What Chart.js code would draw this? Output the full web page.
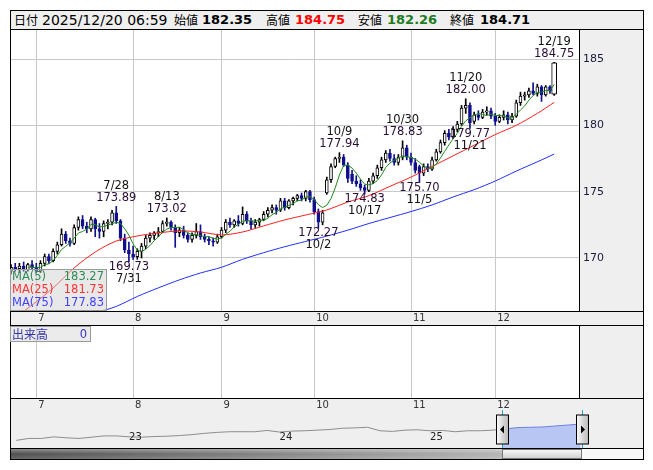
<!DOCTYPE html>
<html>
<head>
<meta charset="utf-8">
<script src="https://cdn.jsdelivr.net/npm/chart.js@4.4.1/dist/chart.umd.min.js"></script>
<style>
  body { margin: 0; width: 653px; height: 470px; position: relative; overflow: hidden; background: #fff; font-family: "DejaVu Sans", sans-serif; }
  canvas { position: absolute; }
  #hdr { position: absolute; left: 10px; top: 10px; width: 634px; height: 20px; box-sizing: border-box; border: 1px solid #000; background: #efefef; }
  #hdr span { position: absolute; top: 0; line-height: 18px; white-space: nowrap; color: #000; }
  .jl { font-family: "Noto Sans CJK JP", sans-serif; font-size: 12px; }
  .dt { font-size: 14px; }
  .bv { font-weight: bold; font-size: 13px; }
  #maBox { position: absolute; left: 10px; top: 269px; width: 97px; height: 42px; box-sizing: border-box; border: 1px solid #999; background: rgba(205,205,205,0.45); font-size: 11.5px; }
  #maBox div { position: absolute; left: 1px; right: 2px; height: 13px; line-height: 13px; }
  #maBox b { font-weight: normal; position: absolute; right: 0; }
  #volBox { position: absolute; left: 10px; top: 326px; width: 81px; height: 16px; box-sizing: border-box; border: 1px solid #999; background: rgba(215,215,215,0.5); color: #3333aa; line-height: 14px; }
  #scroll { position: absolute; left: 10px; top: 448px; width: 634px; height: 12px; box-sizing: border-box; border: 1px solid #000; background: #f8f8f8; }
  #scroll div { position: absolute; top: 0; height: 10px; }
</style>
</head>
<body>
<div id="hdr"></div>
<canvas id="main" width="634" height="297" style="left:10px;top:29px"></canvas>
<canvas id="vol" width="634" height="86" style="left:10px;top:325px"></canvas>
<canvas id="nav" width="634" height="39" style="left:10px;top:410px"></canvas>
<div id="maBox"></div>
<div id="volBox"><span class="jl" style="position:absolute;left:1px;color:#3333aa">出来高</span><span style="position:absolute;right:3px;font-size:11.5px;color:#3333cc">0</span></div>
<div id="scroll"><div id="scrDark"></div><div id="scrThumb"></div></div>
<script>
// EUR/JPY 日足 2025/6/23 - 2025/12/19 (index 0 = 6/23)
const opens = [169.0,169.3,169.2,169.4,169.1,169.5,169.3,169.0,169.6,170.1,169.8,170.5,171.0,171.8,171.3,171.1,172.3,172.9,172.4,172.2,
  172.9,172.2,172.0,172.6,172.7,173.4,172.8,171.5,170.6,170.3,170.1,170.5,170.9,171.5,171.7,171.9,172.0,172.6,172.7,172.3,
  171.9,172.1,171.7,171.4,171.7,172.0,171.6,171.4,171.3,171.2,171.6,172.1,172.7,172.5,172.8,172.6,173.3,172.8,172.5,172.7,
  172.9,173.3,173.6,173.8,173.6,174.3,173.8,174.3,174.5,174.7,174.5,175.0,174.4,173.5,172.7,174.9,175.9,176.9,177.5,177.6,
  177.0,176.3,175.8,175.6,175.3,175.1,175.8,176.2,176.8,177.4,177.9,177.5,177.2,177.6,178.3,177.6,177.2,176.9,176.4,176.9,
  176.7,177.4,178.0,178.7,179.4,179.1,179.7,180.1,181.3,181.5,180.3,180.8,180.6,181.0,181.1,180.7,180.3,180.6,180.8,180.4,
  180.7,181.7,182.2,182.3,182.6,182.4,182.9,182.3,182.9,182.35];
const highs = [169.5,169.6,169.6,169.7,169.6,169.8,169.6,169.8,170.3,170.3,170.7,171.2,172.2,172.0,171.5,172.5,173.1,173.2,172.7,173.1,
  173.0,172.6,172.8,172.9,173.6,173.89,172.9,171.8,171.2,170.9,170.7,171.1,171.7,171.9,172.0,172.3,172.8,173.02,172.8,172.5,
  172.3,172.4,171.9,171.9,172.6,172.5,171.8,171.6,171.5,171.8,172.3,172.9,173.0,172.9,173.2,173.85,173.5,173.0,172.9,173.0,
  173.5,173.8,174.0,174.0,174.5,174.5,174.4,174.6,174.8,174.9,175.1,175.1,174.6,173.7,173.6,176.1,177.1,177.6,177.94,177.8,
  177.2,176.6,176.2,175.9,175.5,176.0,176.4,177.0,177.6,178.1,178.2,177.8,177.8,178.83,178.5,177.9,177.5,177.0,177.1,177.1,
  177.6,178.2,178.9,179.6,179.7,179.9,180.3,181.5,182.00,181.7,181.0,181.1,181.2,181.4,181.3,180.9,180.8,181.1,181.0,180.9,
  181.9,182.5,182.5,182.8,183.2,183.1,183.0,183.0,183.0,184.75];
const lows = [168.8,169.0,168.9,169.0,169.0,169.2,168.9,168.9,169.4,169.6,169.7,170.3,170.9,171.1,170.9,171.0,172.1,172.2,171.9,172.0,
  171.6,171.5,171.6,172.2,172.5,172.6,171.3,170.4,169.73,169.9,169.9,170.0,170.7,171.2,171.4,171.6,171.9,172.4,172.1,170.8,
  171.6,171.5,171.2,171.2,171.5,171.4,171.2,171.0,170.9,171.1,171.5,171.9,172.3,172.3,172.4,172.5,172.6,172.2,172.3,172.4,
  172.8,173.1,173.4,173.3,173.5,173.6,173.7,174.0,174.3,174.3,174.3,174.2,173.3,172.27,172.5,174.8,175.7,176.8,177.2,176.9,
  175.7,175.6,175.4,175.1,174.83,175.0,175.6,176.0,176.6,177.2,177.3,177.0,177.0,177.4,177.4,177.0,176.4,175.70,176.2,176.5,
  176.6,177.3,177.9,178.5,178.9,179.0,179.5,180.0,180.9,179.77,180.1,180.4,180.5,180.8,180.5,180.0,180.2,180.4,180.1,180.2,
  180.6,181.5,181.9,182.1,182.3,182.2,181.8,182.2,182.4,182.26];
const closes = [169.3,169.2,169.4,169.1,169.5,169.3,169.0,169.6,170.1,169.8,170.5,171.0,171.8,171.3,171.1,172.3,172.9,172.4,172.2,172.9,
  172.2,172.0,172.6,172.7,173.4,172.8,171.5,170.6,170.3,170.1,170.5,170.9,171.5,171.7,171.9,172.0,172.6,172.7,172.3,171.9,
  172.1,171.7,171.4,171.7,172.0,171.6,171.4,171.3,171.2,171.6,172.1,172.7,172.5,172.8,172.6,173.3,172.8,172.5,172.7,172.9,
  173.3,173.6,173.8,173.6,174.3,173.8,174.3,174.5,174.7,174.5,175.0,174.4,173.5,172.7,173.4,175.9,176.9,177.5,177.6,177.0,
  176.0,175.8,175.6,175.3,175.1,175.8,176.2,176.8,177.4,177.9,177.5,177.2,177.6,178.3,177.6,177.2,176.6,176.4,176.9,176.7,
  177.4,178.0,178.7,179.4,179.1,179.7,180.1,181.3,181.5,180.2,180.8,180.6,181.0,181.1,180.7,180.3,180.6,180.8,180.4,180.7,
  181.7,182.2,182.3,182.6,182.4,182.9,182.3,182.9,182.6,184.71];

// 月初の足 (index) と目盛ラベル
const monthStart = [6, 29, 50, 72, 95, 115];
const monthLabels = ['7', '8', '9', '10', '11', '12'];
const yTicks = [170, 175, 180, 185];

// 移動平均 (チャートから読み取り)
const ma25Days = [0,5,10,15,20,25,30,35,40,45,50,55,60,65,70,75,80,85,90,95,100,105,110,115,120,125,129];
const ma25 = [165.3,166.45,167.74,169.25,170.45,171.28,171.66,171.89,172.04,171.96,171.74,171.96,172.42,172.87,173.24,173.62,174.22,174.7,175.4,176.1,176.9,177.7,178.5,179.3,180.0,180.9,181.73];
const ma75Days = [20,25,30,35,40,45,50,55,60,65,70,75,80,85,90,95,100,105,110,115,120,125,129];
const ma75 = [165.85,166.35,167.1,167.75,168.35,168.87,169.3,169.9,170.4,170.85,171.25,171.65,172.1,172.6,173.05,173.5,174.0,174.6,175.15,175.8,176.55,177.25,177.83];

// 高値・安値の注記
const annDays = [25, 28, 37, 73, 78, 84, 93, 97, 108, 109, 129];
const annDates = ['7/28', '7/31', '8/13', '10/2', '10/9', '10/17', '10/30', '11/5', '11/20', '11/21', '12/19'];
const annSide = ['h', 'l', 'h', 'l', 'h', 'l', 'h', 'l', 'h', 'l', 'h'];

// 凡例
const maNames = ['MA(5)', 'MA(25)', 'MA(75)'];
const maLast = ['183.27', '181.73', '177.83'];
const maColors = ['#1f8a1f', '#ff2020', '#2030ff'];
const maTextColors = ['#2e8b57', '#ff3333', '#4040ff'];

// ナビゲーター (月次, 2022/3 - 2025/12)
const navValues = [131,137,137,142,139,137,141,145,145,142,
  141,143,144,146,149,153,156,158,158,158,162,157,
  160,161,163,165,169,170,172,161,159,163,164,161,
  162,158,161,161,163,167,171,172,173,176,179,182];
const navYearStart = [10, 22, 34];
const navYearLabels = ['23', '24', '25'];
const navSel = [39.25, 45.61];

// header
const hdrItems = [
  ['日付', 'jl', 3, '#000'], ['2025/12/20 06:59', 'dt', 31, '#000'],
  ['始値', 'jl', 163, '#000'], ['182.35', 'bv', 191, '#000'],
  ['高値', 'jl', 255, '#000'], ['184.75', 'bv', 284, '#ff0000'],
  ['安値', 'jl', 347, '#000'], ['182.26', 'bv', 376, '#1e7a1e'],
  ['終値', 'jl', 439, '#000'], ['184.71', 'bv', 469, '#000']
];
const hdr = document.getElementById('hdr');
hdrItems.forEach(it => {
  const s = document.createElement('span');
  s.className = it[1];
  s.textContent = it[0];
  s.style.left = it[2] + 'px';
  s.style.color = it[3];
  hdr.appendChild(s);
});

const maBox = document.getElementById('maBox');
maNames.forEach((n, i) => {
  const d = document.createElement('div');
  d.style.top = (i * 13) + 'px';
  d.style.color = maTextColors[i];
  d.innerHTML = n + '<b>' + maLast[i] + '</b>';
  maBox.appendChild(d);
});

const ma5 = closes.map((c, i) => i < 4 ? null : closes.slice(i - 4, i + 1).reduce((a, b) => a + b, 0) / 5);
const up = closes.map((c, i) => c >= opens[i]);
const downColor = '#10108c';
const last = closes.length - 1;

const xMin = -0.24, xMax = 134.9;
const gridColor = '#c8c8c8';

function xAxis(h) {
  return {
    type: 'linear', min: xMin, max: xMax, offset: false,
    grid: { color: gridColor, drawTicks: false, offset: false },
    border: { display: false },
    ticks: {
      align: 'start', labelOffset: 2, padding: 1, color: '#333',
      font: { family: 'DejaVu Sans', size: 10 },
      callback: v => monthLabels[monthStart.indexOf(v)]
    },
    afterBuildTicks: s => { s.ticks = monthStart.map(v => ({ value: v })); },
    afterFit: s => { s.height = h; s.paddingLeft = 0; s.paddingRight = 0; }
  };
}

function panelFrame(chart) {
  const { ctx, chartArea: a, width: w, height: h } = chart;
  ctx.save();
  ctx.strokeStyle = '#000';
  ctx.lineWidth = 1;
  ctx.beginPath();
  ctx.moveTo(0.5, 0); ctx.lineTo(0.5, h);
  ctx.moveTo(w - 0.5, 0); ctx.lineTo(w - 0.5, h);
  ctx.moveTo(a.right + 0.5, 0); ctx.lineTo(a.right + 0.5, a.bottom);
  ctx.moveTo(0, a.bottom + 0.5); ctx.lineTo(w, a.bottom + 0.5);
  ctx.moveTo(0, h - 0.5); ctx.lineTo(w, h - 0.5);
  ctx.moveTo(0, 0.5); ctx.lineTo(w, 0.5);
  ctx.stroke();
  ctx.restore();
}

const panelBg = {
  id: 'panelBg',
  beforeDraw(chart) {
    const { ctx, chartArea: a } = chart;
    ctx.save();
    ctx.fillStyle = '#efefef';
    ctx.fillRect(0, 0, chart.width, chart.height);
    ctx.fillStyle = '#fff';
    ctx.fillRect(a.left, a.top, a.right - a.left, a.bottom - a.top);
    ctx.restore();
  },
  afterDraw(chart) { panelFrame(chart); }
};

// 高値・安値の注記
const annPlugin = {
  id: 'annot',
  afterDatasetsDraw(chart) {
    const { ctx, scales: { x, y } } = chart;
    ctx.save();
    ctx.font = '11.5px "DejaVu Sans"';
    ctx.textAlign = 'center';
    ctx.textBaseline = 'middle';
    annDays.forEach((d, i) => {
      const px = x.getPixelForValue(d);
      if (annSide[i] === 'h') {
        const py = y.getPixelForValue(highs[d]);
        ctx.fillStyle = '#111';
        ctx.fillText(annDates[i], px, py - 20.5);
        ctx.fillStyle = '#2a0e36';
        ctx.fillText(highs[d].toFixed(2), px, py - 8.5);
      } else {
        const py = y.getPixelForValue(lows[d]);
        ctx.fillStyle = '#2a0e36';
        ctx.fillText(lows[d].toFixed(2), px, py + 5.5);
        ctx.fillStyle = '#111';
        ctx.fillText(annDates[i], px, py + 17.5);
      }
    });
    ctx.restore();
  }
};

const common = {
  responsive: false, animation: false, devicePixelRatio: 1, events: [],
  plugins: { legend: { display: false }, tooltip: { enabled: false } }
};

new Chart(document.getElementById('main'), {
  type: 'bar',
  data: {
    datasets: [
      { type: 'line', data: ma5.map((v, i) => ({ x: i, y: v })), borderColor: maColors[0], borderWidth: 1, pointRadius: 0, spanGaps: false, order: 0 },
      { type: 'line', data: ma25Days.map((d, i) => ({ x: d, y: ma25[i] })), borderColor: maColors[1], borderWidth: 1, pointRadius: 0, tension: 0.3, order: 0 },
      { type: 'line', data: ma75Days.map((d, i) => ({ x: d, y: ma75[i] })), borderColor: maColors[2], borderWidth: 1, pointRadius: 0, tension: 0.3, order: 0 },
      {
        // 最新の足 (少し太く表示)
        type: 'bar', data: [{ x: last, y: [opens[last], closes[last]] }],
        backgroundColor: up[last] ? '#fff' : downColor,
        borderColor: up[last] ? '#000' : downColor,
        borderWidth: 1, borderSkipped: false, barThickness: 5, grouped: false, order: 0.5
      },
      {
        type: 'bar', data: opens.map((o, i) => ({ x: i, y: [o, closes[i]] })),
        backgroundColor: up.map(u => u ? '#fff' : downColor),
        borderColor: up.map(u => u ? '#000' : downColor),
        borderWidth: 1, borderSkipped: false, barThickness: 3, grouped: false, order: 1
      },
      {
        type: 'bar', data: lows.map((l, i) => ({ x: i, y: [l, highs[i]] })),
        backgroundColor: up.map(u => u ? '#000' : downColor),
        borderWidth: 0, barThickness: 1, grouped: false, order: 2
      }
    ]
  },
  options: {
    ...common,
    layout: { padding: { top: 1, left: 0, right: 0, bottom: 0 } },
    scales: {
      x: xAxis(15),
      y: {
        position: 'right', min: 166.005, max: 187.186,
        grid: { color: gridColor, drawTicks: false },
        border: { display: false },
        ticks: { padding: 4, color: '#1a1a3a', font: { family: 'DejaVu Sans', size: 11 } },
        afterBuildTicks: s => { s.ticks = yTicks.map(v => ({ value: v })); },
        afterFit: s => { s.width = 65; s.paddingTop = 0; s.paddingBottom = 0; }
      }
    }
  },
  plugins: [panelBg, annPlugin]
});

// 出来高 (FX のためデータなし)
new Chart(document.getElementById('vol'), {
  type: 'bar',
  data: { datasets: [] },
  options: {
    ...common,
    layout: { padding: { top: 1, left: 0, right: 0, bottom: 0 } },
    scales: {
      x: xAxis(13),
      y: {
        position: 'right', min: 0, max: 1,
        grid: { display: false }, border: { display: false },
        ticks: { display: false },
        afterFit: s => { s.width = 65; s.paddingTop = 0; s.paddingBottom = 0; }
      }
    }
  },
  plugins: [panelBg]
});

// ナビゲーター
const selFill = '#b8c6f4', selLine = '#6f7fe0';
function selGradient(chart, c0, c1) {
  const a = chart.chartArea;
  if (!a) return c1;
  const x = chart.scales.x;
  const f = Math.min(1, Math.max(0, (x.getPixelForValue(navSel[0]) - a.left) / (a.right - a.left)));
  const g = chart.ctx.createLinearGradient(a.left, 0, a.right, 0);
  g.addColorStop(0, c0); g.addColorStop(f, c0);
  g.addColorStop(f, c1); g.addColorStop(1, c1);
  return g;
}

const navDeco = {
  id: 'navDeco',
  beforeDraw(chart) {
    const { ctx } = chart;
    ctx.save();
    ctx.fillStyle = '#efefef';
    ctx.fillRect(0, 0, chart.width, chart.height);
    ctx.restore();
  },
  afterDraw(chart) {
    const { ctx, scales: { x }, width: w, height: h } = chart;
    ctx.save();
    ctx.font = '10px "DejaVu Sans"';
    ctx.fillStyle = '#222';
    ctx.textAlign = 'center';
    ctx.textBaseline = 'middle';
    navYearStart.forEach((m, i) => ctx.fillText(navYearLabels[i], x.getPixelForValue(m), 27));
    navSel.forEach((m, i) => {
      const px = Math.round(x.getPixelForValue(m)) + 0.5;
      ctx.strokeStyle = '#2aa0d8';
      ctx.beginPath(); ctx.moveTo(px, 0); ctx.lineTo(px, h); ctx.stroke();
      const g = ctx.createLinearGradient(px - 6, 0, px + 6, 0);
      g.addColorStop(0, '#fbfbfb'); g.addColorStop(1, '#b8b8b8');
      ctx.fillStyle = g;
      ctx.fillRect(px - 6, 5, 12, 29);
      ctx.strokeStyle = '#000';
      ctx.strokeRect(px - 6, 5, 12, 29);
      ctx.fillStyle = '#000';
      ctx.beginPath();
      if (i === 0) { ctx.moveTo(px + 1.5, 15.5); ctx.lineTo(px + 1.5, 23.5); ctx.lineTo(px - 2.5, 19.5); }
      else { ctx.moveTo(px - 1.5, 15.5); ctx.lineTo(px - 1.5, 23.5); ctx.lineTo(px + 2.5, 19.5); }
      ctx.closePath(); ctx.fill();
    });
    ctx.strokeStyle = '#000';
    ctx.beginPath();
    ctx.moveTo(0.5, 0); ctx.lineTo(0.5, h);
    ctx.moveTo(w - 0.5, 0); ctx.lineTo(w - 0.5, h);
    ctx.stroke();
    ctx.restore();
  }
};

const navChart = new Chart(document.getElementById('nav'), {
  type: 'line',
  data: {
    datasets: [{
      data: navValues.map((v, i) => ({ x: i + 0.5, y: v })),
      borderWidth: 1, pointRadius: 0, fill: 'start',
      borderColor: c => selGradient(c.chart, '#8c8c8c', selLine),
      backgroundColor: c => selGradient(c.chart, 'rgba(0,0,0,0)', selFill)
    }]
  },
  options: {
    ...common,
    layout: { padding: { top: 0, left: 0, right: 62, bottom: 0 } },
    scales: {
      x: { type: 'linear', display: false, min: 0, max: navSel[1] },
      y: { display: false, min: 104, max: 226 }
    }
  },
  plugins: [navDeco]
});

// スクロールバー
const nx = navChart.scales.x;
const s0 = Math.round(nx.getPixelForValue(navSel[0])) - 1;
const s1 = Math.round(nx.getPixelForValue(navSel[1])) - 1;
const dark = document.getElementById('scrDark');
dark.style.left = '0px';
dark.style.width = s0 + 'px';
dark.style.background = 'linear-gradient(to bottom, rgba(255,255,255,0.35), rgba(0,0,0,0) 50%, rgba(255,255,255,0.15)), linear-gradient(to right, #505050, #b4b4b4)';
const thumb = document.getElementById('scrThumb');
thumb.style.left = s0 + 'px';
thumb.style.width = (s1 - s0) + 'px';
thumb.style.boxSizing = 'border-box';
thumb.style.border = '1px solid #777';
thumb.style.background = 'linear-gradient(#f6f6f6, #d2d2d2)';
</script>
</body>
</html>
